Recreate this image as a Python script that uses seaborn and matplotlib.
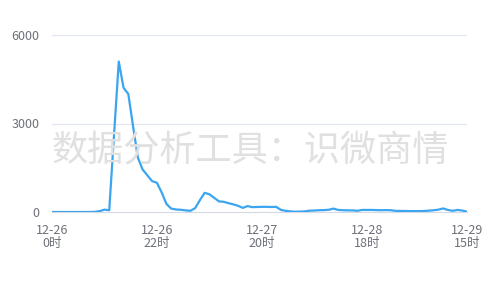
import matplotlib
matplotlib.use("Agg")
import matplotlib.pyplot as plt
import seaborn as sns
import pandas as pd
import numpy as np

values = [0, 0, 0, 0, 0, 0, 0, 0, 0, 5, 30, 80, 60, 2600, 5100,
          4210, 4000, 2900, 1840, 1440, 1240, 1045, 990, 660, 270,
          115, 85, 75, 55, 40, 130, 400, 650, 600, 480, 360, 345, 300, 260, 210,
          140, 200, 165, 170, 175, 175, 170, 175, 70, 40, 20, 10, 15, 20,
          45, 50, 60, 65, 75, 115, 70, 60, 55, 55, 40, 70, 70,
          70, 65, 60, 65, 60, 40, 35, 35, 30, 30, 30, 35, 45, 60, 80, 120,
          70, 40, 70, 50, 10]
tick_pos = [0, 22, 44, 66, 87]
tick_labels = ["12-26\n0时", "12-26\n22时", "12-27\n20时", "12-28\n18时", "12-29\n15时"]
y_ticks = [0, 3000, 6000]
watermark = "数据分析工具：识微商情"

df = pd.DataFrame({"idx": np.arange(len(values)), "value": values})

sns.set_theme(style="white")
plt.rcParams['font.family'] = ['Noto Sans CJK SC', 'DejaVu Sans']

fig = plt.figure(figsize=(5, 3), dpi=100)
ax = fig.add_axes([52/500, 88/300, (467-52)/500, (212-35)/300])

fig.text(0.5, 0.495, watermark, ha='center', va='center', fontsize=26,
         color='#e0e0e0', zorder=0)

sns.lineplot(data=df, x="idx", y="value", ax=ax, color='#3ca5ef', linewidth=1.6, zorder=3)
ax.patch.set_alpha(0)

ax.set_xlim(0, 87)
ax.set_ylim(0, 6000)
ax.set_yticks(y_ticks)
ax.set_yticklabels([str(v) for v in y_ticks])
ax.set_xticks(tick_pos)
ax.set_xticklabels(tick_labels, linespacing=0.9)
ax.set_xlabel("")
ax.set_ylabel("")
for y in y_ticks[1:]:
    ax.axhline(y, color='#e0e6f1', linewidth=0.8, zorder=1)
for s in ['top', 'right', 'left']:
    ax.spines[s].set_visible(False)
ax.spines['bottom'].set_color('#d4d9e4')
ax.spines['bottom'].set_linewidth(0.8)
ax.tick_params(axis='both', length=0, colors='#6e7079', labelsize=9)
ax.tick_params(axis='y', pad=9)
ax.tick_params(axis='x', pad=9)
for lbl in ax.get_xticklabels() + ax.get_yticklabels():
    lbl.set_color('#6e7079')

fig.savefig("out.png", dpi=100)
